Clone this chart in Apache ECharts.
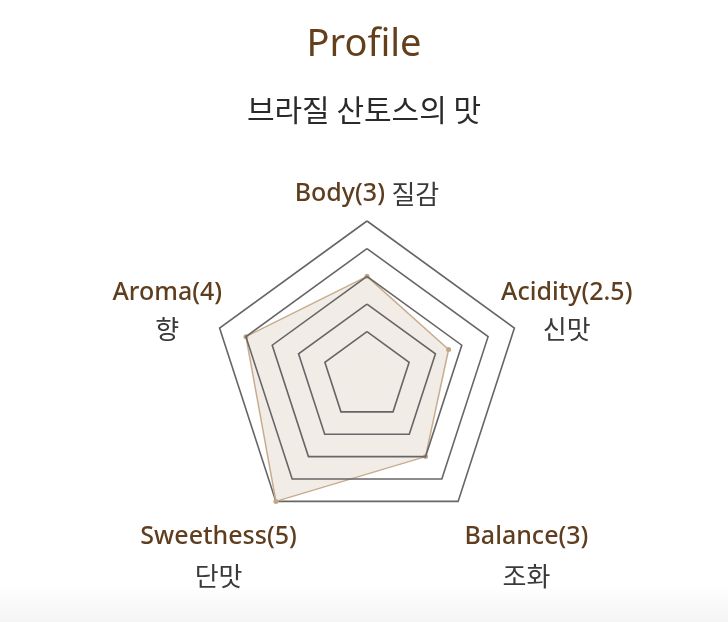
<!DOCTYPE html>
<html>
<head>
<meta charset="utf-8">
<script src="https://cdn.jsdelivr.net/npm/echarts@6/dist/echarts.min.js"></script>
<style>
html,body{margin:0;padding:0;background:#fff;}
#chart{width:728px;height:622px;}
</style>
</head>
<body>
<div id="chart"></div>
<script>
// ---- data (ECharts radar goes counter-clockwise from the top) ----
const titleText = 'Profile';
const subtitleText = '브라질 산토스의 맛';
const indicatorEn = ['Body(3)', 'Aroma(4)', 'Sweethess(5)', 'Balance(3)', 'Acidity(2.5)'];
const indicatorKo = ['질감', '향', '단맛', '조화', '신맛'];
const profileValues = [3, 4, 5, 3, 2.5];
const ringValues = [1, 2, 3, 4, 5];
const axisMin = -0.6;
const axisMax = 5;

// ---- layout ----
const CX = 367, CY = 376, R = 155;
const FONT = '"Noto Sans", "Noto Sans CJK KR", sans-serif';
const KFONT = '"Noto Sans CJK KR", "Noto Sans", sans-serif';
const BROWN = '#5e3e1f';

// per-label layout tweaks: [spacer height above, right pad, left pad, line height]
const richKeys = ['top', 'left', 'bl', 'br', 'right'];
const tweak = {
  top:   [56, 0, 0, 40],
  left:  [0, 0, 0, 37],
  bl:    [21, 50, 0, 40],
  br:    [21, 0, 72, 40],
  right: [0, 0, 0, 37]
};
const rich = {};
richKeys.forEach(k => {
  const t = tweak[k];
  rich[k + 'S'] = { fontSize: 10, lineHeight: Math.max(t[0], 1), color: 'rgba(0,0,0,0)' };
  rich[k + 'E'] = { fontFamily: FONT, fontSize: 25, fontWeight: 500, color: BROWN, lineHeight: t[3], padding: [0, t[1], 0, t[2]], align: 'center' };
  rich[k + 'K'] = { fontFamily: KFONT, fontSize: 26, color: '#3a3a3a', lineHeight: t[3], padding: [0, t[1], 0, t[2]], align: 'center' };
});

const indicator = indicatorEn.map(n => ({ name: n, min: axisMin, max: axisMax }));

const ringStyle = { color: '#666666', width: 1.6 };
const radars = [];
radars.push({
  center: [CX, CY],
  radius: R,
  startAngle: 90,
  shape: 'polygon',
  splitNumber: 1,
  indicator: indicator,
  nameGap: 55,
  axisName: {
    show: true,
    align: 'center',
    verticalAlign: 'middle',
    formatter: function (name) {
      const i = indicatorEn.indexOf(name);
      const k = richKeys[i];
      const spacer = tweak[k][0] > 0 ? '{' + k + 'S| }\n' : '';
      if (i === 0) return spacer + '{' + k + 'E|' + indicatorEn[i] + ' }{' + k + 'K|' + indicatorKo[i] + '}';
      return spacer + '{' + k + 'E|' + indicatorEn[i] + '}\n{' + k + 'K|' + indicatorKo[i] + '}';
    },
    rich: rich
  },
  axisLine: { show: false },
  axisTick: { show: false },
  axisLabel: { show: false },
  splitArea: { show: false },
  splitLine: { show: true, lineStyle: ringStyle }
});
ringValues.filter(v => v < axisMax).forEach(v => {
  radars.push({
    center: [CX, CY],
    radius: R * (v - axisMin) / (axisMax - axisMin),
    startAngle: 90,
    shape: 'polygon',
    splitNumber: 1,
    indicator: indicatorEn.map(n => ({ name: n, min: 0, max: 1 })),
    axisName: { show: false },
    axisLine: { show: false },
    axisTick: { show: false },
    axisLabel: { show: false },
    splitArea: { show: false },
    splitLine: { show: true, lineStyle: ringStyle },
    z: 3
  });
});

const chart = echarts.init(document.getElementById('chart'));
chart.setOption({
  backgroundColor: '#ffffff',
  animation: false,
  title: {
    text: titleText,
    subtext: subtitleText,
    left: 'center',
    top: 21,
    itemGap: 31,
    textStyle: { fontFamily: FONT, fontSize: 38, fontWeight: 'normal', color: '#633f1c' },
    subtextStyle: { fontFamily: KFONT, fontSize: 30, color: '#2a2a2a' }
  },
  graphic: [{
    type: 'rect',
    left: 0, bottom: 0,
    shape: { width: 728, height: 36 },
    style: {
      fill: new echarts.graphic.LinearGradient(0, 0, 0, 1, [
        { offset: 0, color: 'rgba(244,244,244,0)' },
        { offset: 1, color: 'rgba(244,244,244,1)' }
      ])
    },
    silent: true,
    z: -1
  }],
  radar: radars,
  series: [{
    type: 'radar',
    radarIndex: 0,
    z: 2,
    symbol: 'circle',
    symbolSize: 5,
    lineStyle: { color: '#cbb196', width: 1.5 },
    itemStyle: { color: '#c4a585' },
    areaStyle: { color: 'rgba(160,120,80,0.2)' },
    data: [{ value: profileValues, name: 'Profile' }]
  }]
});
</script>
</body>
</html>
